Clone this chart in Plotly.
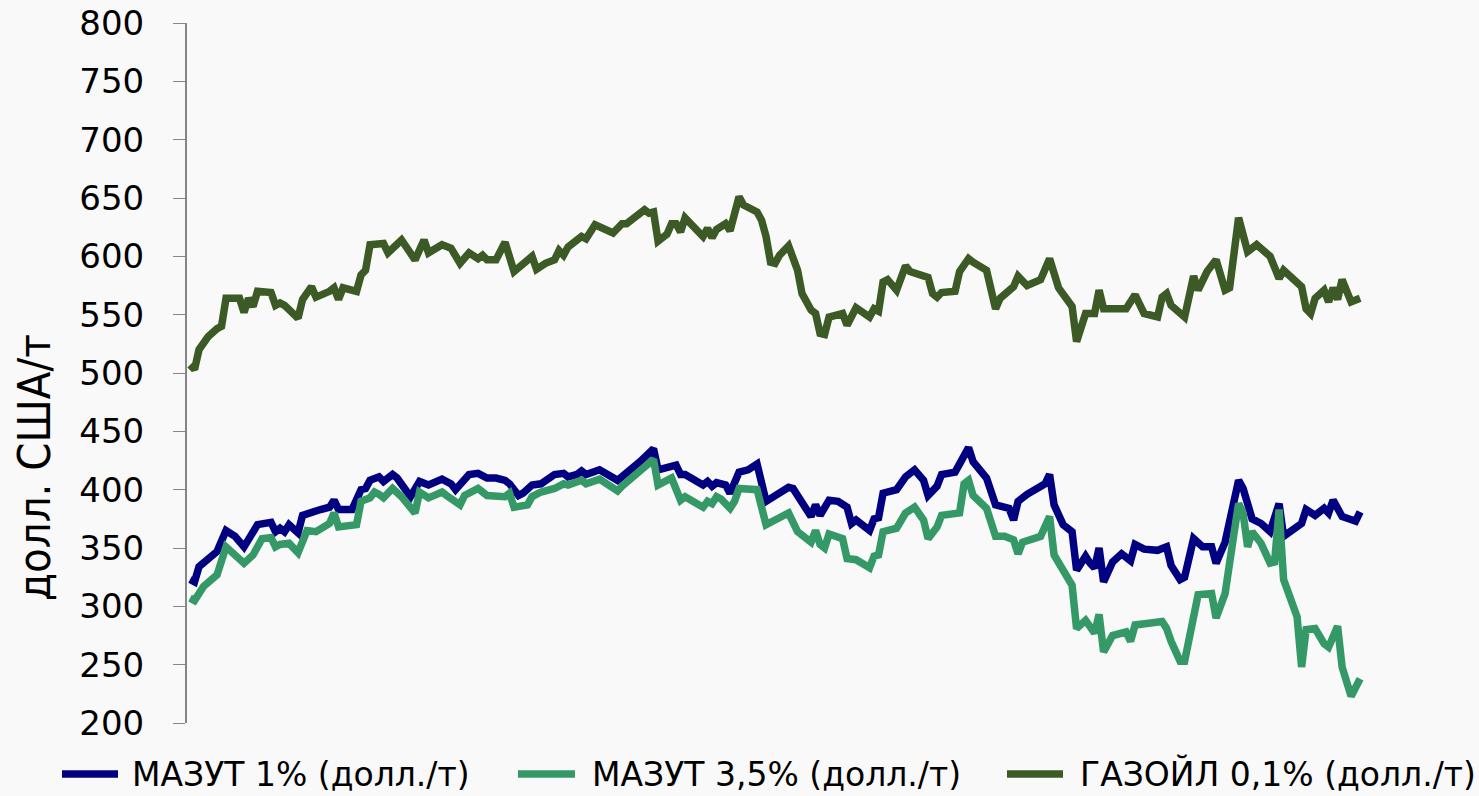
import plotly.graph_objects as go

# ---- data (day index along the hidden time axis, price in USD/t) ----
series_names = ["МАЗУТ 1% (долл./т)", "МАЗУТ 3,5% (долл./т)", "ГАЗОЙЛ 0,1% (долл./т)"]
y_ticks = [200, 250, 300, 350, 400, 450, 500, 550, 600, 650, 700, 750, 800]

mazut1_day = [0, 1, 2, 5, 6, 8, 10, 12, 13, 15,
              18, 19, 20, 21, 22, 24, 25, 27, 29, 31,
              32, 33, 36, 38, 39, 40, 42, 43, 45, 46,
              49, 51, 53, 56, 58, 59, 62, 64, 66, 68,
              70, 71, 73, 74, 76, 78, 79, 81, 83, 84,
              86, 87, 88, 91, 95, 96, 100, 103, 104, 108,
              109, 110, 114, 115, 116, 117, 119, 120, 122, 124,
              126, 128, 130, 133, 134, 136, 138, 139, 140, 142,
              144, 146, 147, 148, 151, 152, 153, 154, 157, 159,
              161, 163, 164, 166, 167, 170, 172, 173, 174, 176,
              177, 179, 182, 183, 184, 186, 188, 190, 191, 192,
              194, 196, 197, 199, 200, 201, 202, 203, 205, 207,
              209, 210, 212, 215, 217, 218, 220, 221, 223, 225,
              227, 228, 230, 233, 234, 236, 238, 240, 242, 243,
              247, 248, 250, 252, 253, 254, 256, 259, 260]
mazut1_val = [323, 321, 334, 344, 347, 365, 360, 351, 357, 370,
              372, 364, 367, 364, 370, 363, 378, 381, 383, 385,
              391, 383, 383, 400, 401, 408, 411, 407, 413, 410,
              394, 407, 404, 409, 405, 400, 413, 414, 410, 410,
              408, 405, 395, 397, 404, 405, 408, 413, 414, 411,
              413, 416, 413, 417, 408, 411, 424, 435, 417, 421,
              413, 413, 404, 407, 403, 406, 404, 397, 415, 417,
              422, 390, 395, 402, 401, 388, 377, 387, 378, 391,
              390, 385, 371, 374, 365, 375, 376, 397, 400, 411,
              417, 408, 395, 403, 413, 415, 429, 436, 424, 413,
              410, 387, 384, 374, 390, 396, 400, 405, 413, 387,
              370, 364, 331, 343, 337, 333, 350, 321, 338, 345,
              339, 353, 349, 348, 351, 335, 323, 325, 358, 351,
              351, 337, 355, 408, 401, 375, 371, 364, 388, 360,
              371, 383, 378, 384, 380, 391, 377, 373, 381]

mazut35_day = [0, 1, 3, 6, 8, 12, 14, 16, 18, 19,
               20, 22, 24, 26, 28, 31, 32, 33, 37, 38,
               40, 41, 42, 43, 45, 47, 50, 51, 53, 56,
               57, 60, 61, 64, 66, 69, 70, 71, 72, 75,
               76, 78, 81, 83, 84, 87, 88, 91, 95, 96,
               100, 103, 104, 107, 109, 110, 114, 115, 116, 117,
               118, 120, 121, 122, 126, 128, 130, 133, 135, 138,
               139, 140, 141, 142, 145, 146, 148, 151, 152, 153,
               154, 157, 159, 161, 163, 164, 166, 167, 171, 172,
               173, 174, 177, 179, 181, 183, 184, 185, 189, 191,
               192, 194, 196, 197, 199, 201, 202, 203, 205, 208,
               209, 210, 212, 216, 217, 218, 220, 221, 224, 227,
               228, 230, 232, 233, 234, 235, 236, 238, 240, 241,
               242, 243, 246, 247, 248, 250, 252, 253, 255, 256,
               258, 260]
mazut35_val = [307, 305, 317, 327, 351, 337, 344, 358, 359, 351,
               353, 354, 346, 365, 364, 371, 380, 368, 370, 390,
               393, 398, 396, 393, 401, 394, 380, 398, 393, 398,
               395, 387, 395, 401, 395, 395, 394, 397, 385, 387,
               394, 398, 401, 405, 404, 408, 405, 409, 399, 403,
               417, 426, 404, 410, 391, 394, 385, 390, 388, 394,
               392, 384, 390, 401, 400, 370, 374, 380, 364, 355,
               365, 353, 350, 362, 358, 341, 340, 333, 343, 344,
               364, 367, 380, 385, 374, 358, 368, 378, 380, 405,
               408, 395, 384, 360, 360, 357, 345, 355, 360, 377,
               344, 330, 318, 281, 288, 277, 293, 261, 275, 278,
               270, 284, 285, 287, 281, 270, 253, 253, 310, 311,
               290, 311, 363, 388, 380, 351, 364, 354, 337, 338,
               383, 323, 291, 248, 280, 281, 268, 265, 283, 248,
               223, 238]

gasoil_day = [0, 1, 2, 4, 6, 7, 8, 11, 12, 13,
              14, 15, 18, 19, 20, 21, 24, 25, 27, 28,
              31, 32, 33, 34, 37, 38, 39, 40, 43, 44,
              47, 50, 52, 53, 56, 58, 60, 62, 64, 65,
              66, 68, 70, 72, 76, 77, 79, 81, 82, 83,
              84, 87, 88, 90, 94, 96, 97, 101, 102, 103,
              104, 106, 107, 108, 109, 110, 114, 115, 116, 117,
              119, 120, 122, 123, 126, 127, 128, 129, 130, 131,
              133, 135, 136, 138, 139, 140, 141, 142, 145, 146,
              148, 151, 152, 153, 154, 155, 157, 159, 160, 164,
              165, 166, 167, 170, 171, 173, 174, 177, 179, 180,
              183, 184, 186, 189, 191, 193, 196, 197, 199, 201,
              202, 203, 208, 210, 212, 215, 216, 217, 218, 221,
              223, 224, 226, 228, 230, 231, 233, 235, 237, 240,
              242, 243, 247, 248, 249, 250, 252, 253, 254, 255,
              256, 258, 260]
gasoil_val = [507, 503, 520, 531, 538, 540, 564, 564, 552, 564,
              557, 570, 569, 558, 560, 558, 547, 563, 574, 565,
              570, 573, 563, 573, 570, 584, 588, 610, 611, 603,
              614, 597, 614, 603, 610, 607, 594, 603, 598, 601,
              597, 597, 612, 587, 600, 589, 594, 597, 605, 601,
              608, 617, 615, 627, 620, 628, 628, 640, 637, 638,
              613, 619, 628, 628, 621, 633, 617, 624, 616, 623,
              628, 622, 651, 644, 638, 631, 617, 595, 594, 601,
              609, 588, 568, 554, 551, 534, 533, 548, 551, 541,
              556, 548, 555, 553, 578, 580, 571, 592, 587, 582,
              568, 565, 569, 570, 587, 598, 595, 588, 555, 564,
              574, 583, 575, 580, 598, 573, 557, 527, 551, 551,
              571, 555, 555, 567, 551, 548, 565, 568, 558, 548,
              583, 571, 587, 597, 571, 573, 633, 604, 610, 600,
              581, 588, 574, 555, 551, 564, 571, 561, 573, 563,
              580, 561, 564]

colors = ["#000080", "#349966", "#3b5a25"]

FONT = "DejaVu Sans, Noto Sans, sans-serif"

# figure geometry (pixels)
W, H = 1479, 796
ML, MR, MT, MB = 187, 109, 23, 73
PW, PH = W - ML - MR, H - MT - MB


def px_x(p):
    return (p - ML) / PW


def px_y(p):
    return (H - MB - p) / PH


fig = go.Figure()
for name, xs, ys, col in zip(series_names,
                             [mazut1_day, mazut35_day, gasoil_day],
                             [mazut1_val, mazut35_val, gasoil_val],
                             colors):
    fig.add_trace(go.Scatter(x=xs, y=ys, mode="lines", name=name,
                             line=dict(color=col, width=7.5, shape="linear"),
                             hoverinfo="x+y", showlegend=False))

# custom legend below the plot (line sample + label per series)
legend_line_px = [(62, 118), (518, 575), (1007, 1063)]
legend_text_px = [130, 590, 1078]
legend_y = px_y(774)
shapes = []
annotations = []
for name, col, (a, b), t in zip(series_names, colors, legend_line_px, legend_text_px):
    shapes.append(dict(type="line", xref="paper", yref="paper",
                       x0=px_x(a), x1=px_x(b), y0=legend_y, y1=legend_y,
                       line=dict(color=col, width=7.5)))
    annotations.append(dict(text=name, showarrow=False, xref="paper", yref="paper",
                            x=px_x(t), y=legend_y, xanchor="left", yanchor="middle",
                            font=dict(size=33, family=FONT, color="#000000")))

annotations.append(dict(text="долл. США/т", textangle=-90, showarrow=False,
                        xref="paper", yref="paper", x=px_x(34), y=px_y(468),
                        xanchor="center", yanchor="middle",
                        font=dict(size=45,
                                  family="Liberation Sans Narrow, DejaVu Sans Condensed, sans-serif",
                                  color="#000000")))

fig.update_layout(
    width=W, height=H,
    margin=dict(l=ML, r=MR, t=MT, b=MB, autoexpand=False),
    paper_bgcolor="#f9f9f9",
    plot_bgcolor="rgba(0,0,0,0)",
    font=dict(family=FONT, color="#000000"),
    showlegend=False,
    xaxis=dict(visible=False, range=[-0.67, 262.2], fixedrange=True),
    yaxis=dict(range=[200, 800], tickvals=y_ticks, ticks="outside", ticklen=12,
               tickwidth=1, tickcolor="#868686", showline=True, linecolor="#868686",
               linewidth=2, showgrid=False, zeroline=False,
               tickfont=dict(size=34, family=FONT, color="#000000"),
               ticklabelstandoff=22, fixedrange=True),
    shapes=shapes,
    annotations=annotations,
)

fig.write_html("out.html", include_plotlyjs=True, full_html=True,
               config={"displayModeBar": False},
               post_script="document.body.style.margin='0';document.body.style.overflow='hidden';")
